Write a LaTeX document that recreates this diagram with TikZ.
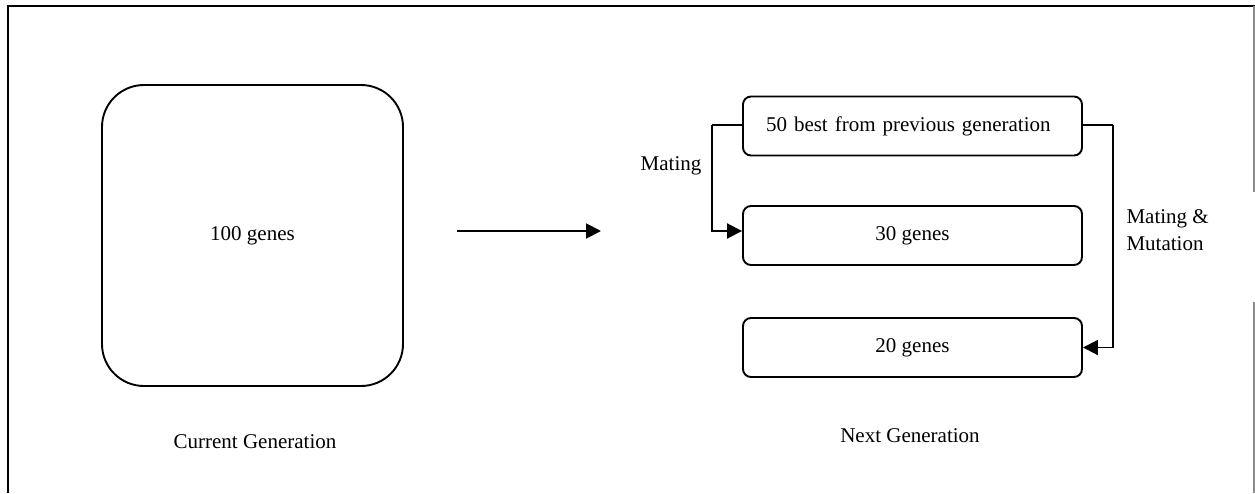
\documentclass[tikz,border=0pt]{standalone}
\usepackage{fontspec}
\setmainfont{Liberation Serif}
\usetikzlibrary{arrows.meta}
\begin{document}
\begin{tikzpicture}[x=1pt,y=-1pt,
  every node/.style={font=\fontsize{21}{27}\selectfont},
  genbox/.style={draw,line width=1.9pt,rounded corners=8pt,minimum width=339pt,minimum height=59pt,inner sep=0pt},
  bigbox/.style={draw,line width=1.9pt,rounded corners=42pt,minimum width=301pt,minimum height=301pt,inner sep=0pt},
  conn/.style={line width=1.9pt,-{Triangle[length=15pt,width=15pt]}},
  link/.style={line width=1.9pt},
  frameline/.style={line width=2pt},
  sideline/.style={line width=1.5pt,draw=black!45}]
\useasboundingbox (0,0) rectangle (1255,493);
% outer frame
\draw[frameline] (8,493) -- (8,6) -- (1255,6);
\draw[sideline] (1254,6) -- (1254,192);
\draw[sideline] (1254,302) -- (1254,493);
% current generation
\node[bigbox] (cur) at (252.5,235.5) {100 genes};
\node (curlbl) at (255,442) {Current Generation};
% transition arrow
\coordinate (a0) at (457,231);
\coordinate (a1) at (601,231);
\draw[conn] (a0) -- (a1);
% next generation
\node[genbox,align=left,text width=293pt,inner xsep=23pt] (best) at (912.5,126) {50 best from previous generation};
\node[genbox] (g30) at (912.5,235.5) {30 genes};
\node[genbox] (g20) at (912.5,347.5) {20 genes};
\node (nextlbl) at (910,436) {Next Generation};
% mating
\coordinate (ml) at (712,125);
\draw[link] ([yshift=1pt]best.west) -- (ml);
\draw[conn] (ml) |- ([yshift=4.5pt]g30.west);
\node (mating) at (671,166) {Mating};
% mating and mutation
\coordinate (mr) at (1113,125);
\draw[link] ([yshift=1pt]best.east) -- (mr);
\draw[conn] (mr) |- (g20.east);
\node[anchor=west,align=left] (mmut) at (1123,230) {Mating \&\\Mutation};
\end{tikzpicture}
\end{document}
